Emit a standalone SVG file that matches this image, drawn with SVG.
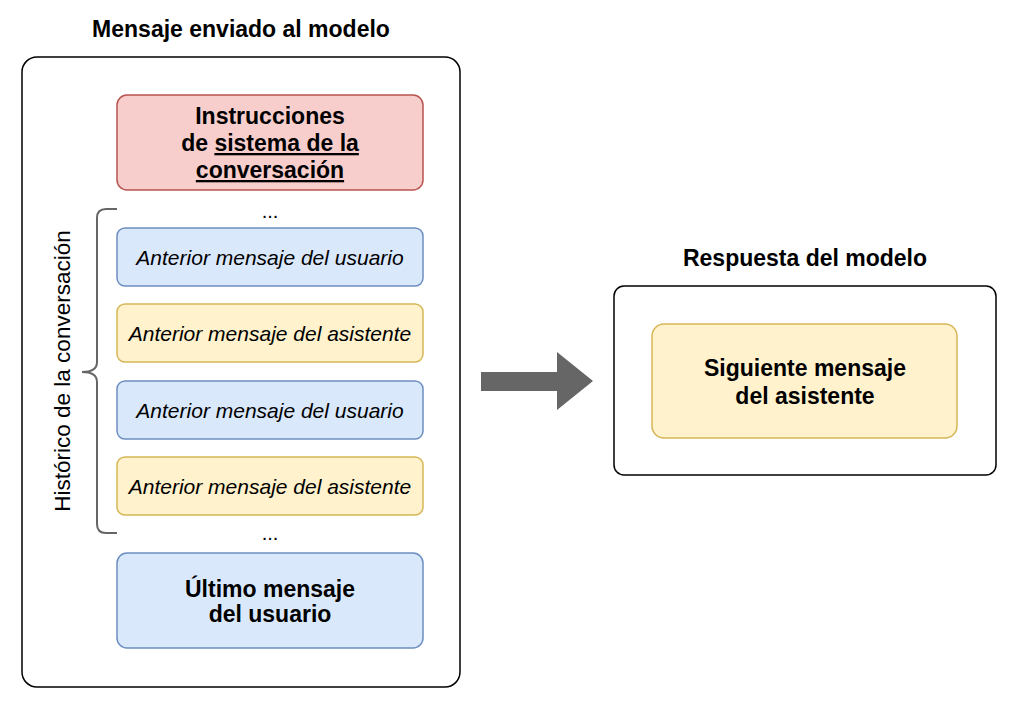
<svg xmlns="http://www.w3.org/2000/svg" width="1016" height="708" viewBox="0 0 1016 708">
<style>
.t{font-family:"Liberation Sans",Arial,sans-serif;fill:#000;text-anchor:middle}
.b{font-weight:bold;font-size:23px}
.i{font-style:italic;font-size:21px}
.frame{fill:#fff;stroke:#000;stroke-width:1.5}
.red{fill:#f8cecc;stroke:#b85450;stroke-width:1.5}
.blue{fill:#dae8fc;stroke:#6c8ebf;stroke-width:1.5}
.yel{fill:#fff2cc;stroke:#d6b656;stroke-width:1.5}
</style>
<rect width="1016" height="708" fill="#fff"/>
<g id="sent">
<text class="t b" x="241" y="37">Mensaje enviado al modelo</text>
<rect class="frame" x="22" y="57" width="438" height="630" rx="15"/>
</g>
<g id="system">
<rect class="red" x="117" y="95" width="306" height="95" rx="10"/>
<text class="t b" x="270" y="124">Instrucciones</text>
<text class="t b" x="270" y="151">de <tspan text-decoration="underline">sistema de la</tspan></text>
<text class="t b" x="270" y="178" text-decoration="underline">conversación</text>
</g>
<text class="t" x="270" y="218" font-size="20">...</text>
<g id="u1">
<rect class="blue" x="117" y="228" width="306" height="58" rx="8"/>
<text class="t i" x="270" y="265">Anterior mensaje del usuario</text>
</g>
<g id="a1">
<rect class="yel" x="117" y="304" width="306" height="58" rx="8"/>
<text class="t i" x="270" y="341">Anterior mensaje del asistente</text>
</g>
<g id="u2">
<rect class="blue" x="117" y="381" width="306" height="58" rx="8"/>
<text class="t i" x="270" y="418">Anterior mensaje del usuario</text>
</g>
<g id="a2">
<rect class="yel" x="117" y="457" width="306" height="58" rx="8"/>
<text class="t i" x="270" y="494">Anterior mensaje del asistente</text>
</g>
<text class="t" x="270" y="540" font-size="20">...</text>
<g id="last">
<rect class="blue" x="117" y="553" width="306" height="95" rx="10"/>
<text class="t b" x="270" y="597">Último mensaje</text>
<text class="t b" x="270" y="622">del usuario</text>
</g>
<g id="history">
<path d="M117,209 H106 Q97,209 97,218 V362 Q97,372 82,372 Q97,372 97,382 V524 Q97,533 106,533 H117" fill="none" stroke="#666" stroke-width="2"/>
<text class="t" font-size="22.5" transform="translate(70,371) rotate(-90)">Histórico de la conversación</text>
</g>
<g id="connectors">
<polygon points="481,372 557,372 557,352 593,381 557,410 557,391 481,391" fill="#666"/>
</g>
<g id="response">
<text class="t b" x="805" y="266">Respuesta del modelo</text>
<rect class="frame" x="614" y="286" width="382" height="189" rx="10"/>
</g>
<g id="next">
<rect class="yel" x="652" y="324" width="305" height="114" rx="12"/>
<text class="t b" x="805" y="376">Siguiente mensaje</text>
<text class="t b" x="805" y="404">del asistente</text>
</g>
</svg>
